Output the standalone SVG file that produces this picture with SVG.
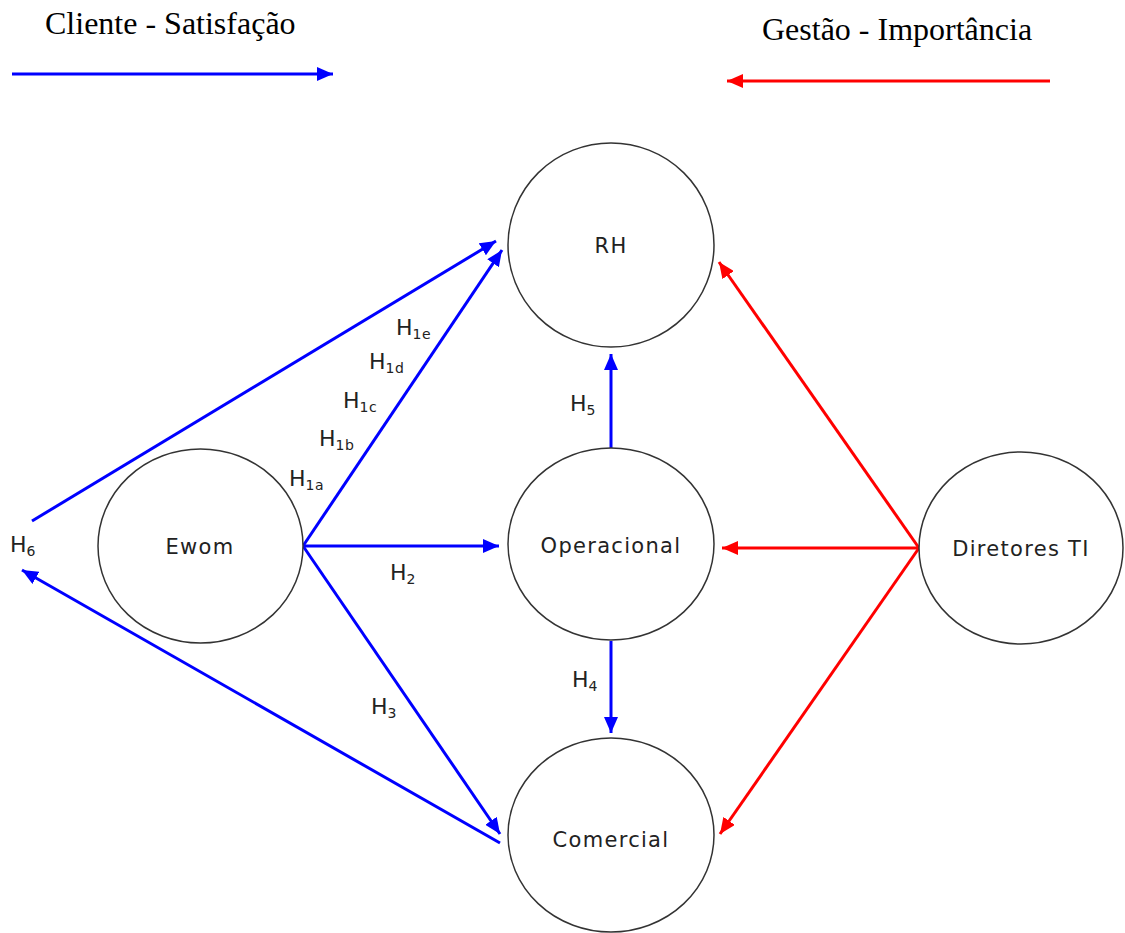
<svg xmlns="http://www.w3.org/2000/svg" width="1125" height="933" viewBox="0 0 1125 933">
<style>
.node{fill:#fff;stroke:#333;stroke-width:1.5}
.lbl{font-family:"DejaVu Sans",Verdana,sans-serif;font-size:21px;letter-spacing:1.3px;fill:#222}
.h{font-family:"DejaVu Sans",Verdana,sans-serif;font-size:22px;fill:#222}
.sub{font-size:14px;letter-spacing:0.5px}
.title{font-family:"Liberation Serif","Times New Roman",serif;font-size:32px;fill:#000}
.b{stroke:#0000ff;stroke-width:3;fill:none}
.r{stroke:#ff0000;stroke-width:3;fill:none}
</style>
<defs>
<marker id="ab" markerUnits="userSpaceOnUse" markerWidth="18" markerHeight="14" refX="16" refY="7" orient="auto"><path d="M0,0 L16,7 L0,14 Z" fill="#0000ff"/></marker>
<marker id="ar" markerUnits="userSpaceOnUse" markerWidth="18" markerHeight="14" refX="16" refY="7" orient="auto"><path d="M0,0 L16,7 L0,14 Z" fill="#ff0000"/></marker>
</defs>
<rect width="1125" height="933" fill="#fff"/>
<g id="legend">
<text class="title" x="45" y="34">Cliente - Satisfação</text>
<text class="title" x="762" y="40">Gestão - Importância</text>
<line class="b" x1="12" y1="74" x2="333" y2="74" marker-end="url(#ab)"/>
<line class="r" x1="1050" y1="81" x2="727" y2="81" marker-end="url(#ar)"/>
</g>
<g id="connectors">
<line class="b" x1="303" y1="546" x2="502" y2="250" marker-end="url(#ab)"/>
<line class="b" x1="303" y1="546" x2="499" y2="546" marker-end="url(#ab)"/>
<line class="b" x1="303" y1="546" x2="500" y2="834" marker-end="url(#ab)"/>
<line class="b" x1="32" y1="521" x2="496" y2="241" marker-end="url(#ab)"/>
<line class="b" x1="500" y1="843" x2="22" y2="570" marker-end="url(#ab)"/>
<line class="b" x1="611" y1="448" x2="611" y2="354" marker-end="url(#ab)"/>
<line class="b" x1="611" y1="641" x2="611" y2="733" marker-end="url(#ab)"/>
<line class="r" x1="919" y1="548" x2="719" y2="262" marker-end="url(#ar)"/>
<line class="r" x1="919" y1="548" x2="722" y2="548" marker-end="url(#ar)"/>
<line class="r" x1="919" y1="548" x2="720" y2="834" marker-end="url(#ar)"/>
<text class="h" x="396" y="335">H<tspan class="sub" dy="4">1e</tspan></text>
<text class="h" x="369" y="369">H<tspan class="sub" dy="4">1d</tspan></text>
<text class="h" x="343" y="408">H<tspan class="sub" dy="4">1c</tspan></text>
<text class="h" x="319" y="446">H<tspan class="sub" dy="4">1b</tspan></text>
<text class="h" x="289" y="486">H<tspan class="sub" dy="4">1a</tspan></text>
<text class="h" x="390" y="580">H<tspan class="sub" dy="4">2</tspan></text>
<text class="h" x="371" y="714">H<tspan class="sub" dy="4">3</tspan></text>
<text class="h" x="572" y="687">H<tspan class="sub" dy="4">4</tspan></text>
<text class="h" x="570" y="411">H<tspan class="sub" dy="4">5</tspan></text>
<text class="h" x="10" y="552">H<tspan class="sub" dy="4">6</tspan></text>
</g>
<g id="rh"><ellipse class="node" cx="611" cy="245" rx="103" ry="102"/><text class="lbl" x="611" y="253" text-anchor="middle">RH</text></g>
<g id="operacional"><ellipse class="node" cx="611" cy="544" rx="103" ry="96"/><text class="lbl" x="611" y="553" text-anchor="middle">Operacional</text></g>
<g id="comercial"><ellipse class="node" cx="611" cy="835" rx="103" ry="97"/><text class="lbl" x="611" y="847" text-anchor="middle">Comercial</text></g>
<g id="ewom"><ellipse class="node" cx="200.5" cy="546" rx="102.5" ry="97"/><text class="lbl" x="200" y="554" text-anchor="middle">Ewom</text></g>
<g id="diretores"><ellipse class="node" cx="1021" cy="548" rx="102" ry="96"/><text class="lbl" x="1021" y="556" text-anchor="middle">Diretores TI</text></g>
</svg>
